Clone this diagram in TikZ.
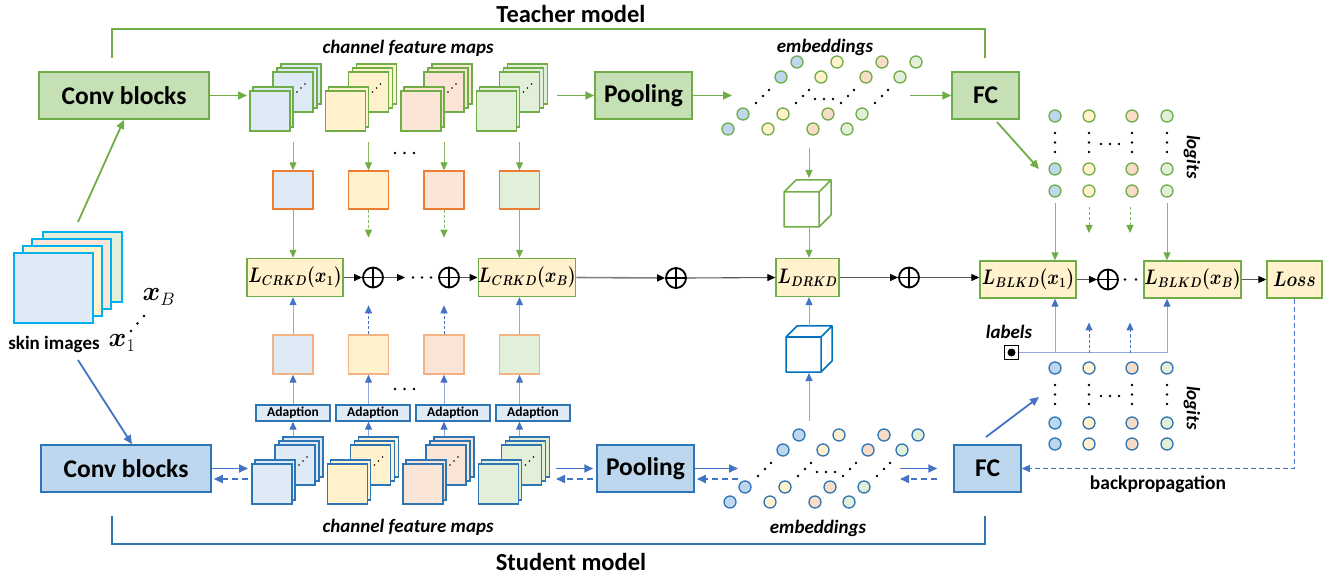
\RequirePackage{fix-cm}
\documentclass[tikz,border=0pt]{standalone}
\usepackage{amsmath,bm}
\usepackage{fontspec}
\setmainfont{Carlito}
\usetikzlibrary{arrows.meta,calc}
\DeclareMathSizes{21}{21}{14}{11}
\DeclareMathSizes{27}{27}{18}{14}

\definecolor{tgreen}{HTML}{70AD47}
\definecolor{tgreenfill}{HTML}{C5E0B4}
\definecolor{sblue}{HTML}{2E75B6}
\definecolor{sbluefill}{HTML}{BDD7EE}
\definecolor{arrblue}{HTML}{4472C4}
\definecolor{lightarr}{HTML}{8FAADC}
\definecolor{cblue}{HTML}{DEEBF7}
\definecolor{eblue}{HTML}{BDD7EE}
\definecolor{cyellow}{HTML}{FFF2CC}
\definecolor{corange}{HTML}{FBE5D6}
\definecolor{eorange}{HTML}{F9DCC8}
\definecolor{cgreen}{HTML}{E2F0D9}
\definecolor{orangeB}{HTML}{ED7D31}
\definecolor{orangeL}{HTML}{F4B183}
\definecolor{cyanB}{HTML}{00B0F0}
\definecolor{cubeblue}{HTML}{0070C0}

\newcommand{\fmapstack}[4]{%
  \begin{scope}[shift={(#1,#2)}]
    \foreach \dx/\dy in {31/-27, 27/-23, 23/-19}
      \draw[draw=#4, fill=#3, line width=1.4pt] (\dx,\dy) rectangle ++(40,40);
    \foreach \dx/\dy in {47/1, 51/-3, 55/-7}
      \fill (\dx,\dy) circle (0.9pt);
    \draw[draw=#4, fill=#3, line width=1.4pt] (3,-4) rectangle ++(40,40);
    \draw[draw=#4, fill=#3, line width=1.4pt] (0,0) rectangle ++(40,40);
  \end{scope}}

\newcommand{\embset}[3]{%
  \begin{scope}[shift={(#1,#2)}]
    \foreach \bx/\c in {728/eblue, 768/cyellow, 813/eorange, 847/cgreen}{
      \foreach \ox/\oy in {0/0, 15/-15, 53/-52, 69/-67}
        \draw[draw=#3, fill=\c, line width=1.3pt] (\bx+\ox,129+\oy) circle (6pt);
      \foreach \ox/\oy in {28/-26, 35/-33, 41/-39}
        \fill (\bx+\ox,129+\oy) circle (1.3pt);
    }
    \foreach \hx in {815,824,833} \fill (\hx,99) circle (1.3pt);
  \end{scope}}

\newcommand{\logitset}[5]{%
  \foreach \lx/\c in {1055/eblue, 1089/cyellow, 1132/eorange, 1167/cgreen}{
    \foreach \ly in {#1,#2,#3}
      \draw[draw=#4, fill=\c, line width=1.3pt] (\lx,\ly) circle (6pt);
    \foreach \dy in {0,9.5,19}
      \fill (\lx,#5+\dy) circle (1.3pt);
  }
  \foreach \hx in {1101,1110,1119} \fill (\hx,#5+11) circle (1.3pt);}

\newcommand{\cubeshape}[5]{% x y size depth color
  \draw[draw=#5, fill=white, line width=1.5pt, line join=round]
    (#1,#2) rectangle ++(#3,#3)
    (#1,#2) -- ++(#4,-#4) -- ++(#3,0) -- ++(0,#3) -- ++(-#4,#4)
    (#1+#3,#2) -- ++(#4,-#4);}

\newcommand{\lossmath}[1]{\scalebox{0.85}[1]{$\bm{#1}$}}

\begin{document}
\begin{tikzpicture}[x=1pt,y=-1pt,
  title/.style={font=\fontsize{24.5}{28}\selectfont\bfseries, inner sep=0pt},
  bigbox/.style={draw, line width=1.5pt, font=\fontsize{25.5}{28}\selectfont\bfseries, inner sep=0pt, minimum height=47pt},
  tbox/.style={bigbox, draw=tgreen, fill=tgreenfill},
  sbox/.style={bigbox, draw=sblue, fill=sbluefill},
  lbox/.style={draw=tgreen, fill=cyellow, line width=1.4pt, inner sep=0pt, minimum height=38pt, font=\fontsize{21}{23}\selectfont},
  adbox/.style={draw=sblue, fill=cblue, line width=1.3pt, minimum width=74pt, minimum height=16pt, inner sep=0pt, font=\fontsize{13.5}{14}\selectfont\bfseries},
  tsqs/.style={draw=orangeB, line width=1.4pt, minimum width=40pt, minimum height=38pt, inner sep=0pt},
  ssqs/.style={draw=orangeL, line width=1.4pt, minimum width=40pt, minimum height=39pt, inner sep=0pt},
  oplus/.style={circle, draw, line width=1.8pt, minimum size=20pt, inner sep=0pt,
    path picture={\draw[line width=1.8pt] (path picture bounding box.north) -- (path picture bounding box.south)
      (path picture bounding box.west) -- (path picture bounding box.east);}},
  lbl/.style={font=\fontsize{19.5}{22}\selectfont\bfseries, inner sep=0pt},
  ilbl/.style={font=\fontsize{19}{22}\selectfont\bfseries\itshape, inner sep=0pt},
  tarr/.style={draw=tgreen, line width=1.8pt, -{Triangle[length=9pt,width=8pt]}},
  sarr/.style={draw=arrblue, line width=1.8pt, -{Triangle[length=9pt,width=8pt]}},
  sdarr/.style={sarr, dash pattern=on 6pt off 4pt},
  tthin/.style={draw=tgreen!85, line width=1pt, -{Triangle[length=8pt,width=7pt,color=tgreen]}},
  tthind/.style={tthin, dash pattern=on 3pt off 2pt},
  sthin/.style={draw=lightarr, line width=1pt, -{Triangle[length=8pt,width=7pt,color=arrblue]}},
  sthind/.style={sthin, draw=arrblue, dash pattern=on 3pt off 2pt},
  karr/.style={draw=black!65, line width=1.1pt, -{Triangle[length=8pt,width=7pt,color=black]}}
]
\useasboundingbox (0,0) rectangle (1336,577);

% brackets and titles
\draw[tgreen, line width=1.3pt] (112,58) -- (112,29) -- (985,29) -- (985,58);
\draw[sblue, line width=1.3pt] (112,516) -- (112,544) -- (985,544) -- (985,516);
\node[title] (ttitle) at (571,14) {Teacher model};
\node[title] (stitle) at (571,562) {Student model};

% skin images
\foreach \dx/\dy/\c in {29/-21/cgreen, 18/-14/corange, 9/-7/cyellow, 0/0/cblue}
  \draw[draw=cyanB, fill=\c, line width=1.4pt] (14+\dx,253+\dy) rectangle ++(79,70);
\node[lbl, font=\fontsize{19}{22}\selectfont\bfseries] (skin) at (54,344) {skin images};
\node[inner sep=0pt, font=\fontsize{27}{29}\selectfont] (x1) at (122,343) {$\bm{x}_1$};
\node[inner sep=0pt, font=\fontsize{27}{29}\selectfont] (xB) at (159,297) {$\bm{x}_B$};
\foreach \px/\py in {131/331, 137.5/323.5, 144/316} \fill (\px,\py) circle (1.4pt);
\coordinate (skintop) at (78,222);
\coordinate (skinbot) at (78,360);

% main boxes
\node[tbox, minimum width=170pt] (tconv) at (124,95.5) {Conv blocks};
\node[sbox, minimum width=170pt] (sconv) at (126,468.5) {Conv blocks};
\node[tbox, minimum width=97pt] (tpool) at (643.5,95.5) {Pooling};
\node[sbox, minimum width=97pt] (spool) at (645.5,468.5) {Pooling};
\node[tbox, minimum width=67pt] (tfc) at (985.5,95.5) {FC};
\node[sbox, minimum width=67pt] (sfc) at (987.5,468.5) {FC};

\draw[tarr] (skintop) -- (tconv.south);
\draw[sarr] (skinbot) -- ($(sconv.north)+(6,0)$);

% feature maps
\foreach \i/\c in {0/cblue, 1/cyellow, 2/corange, 3/cgreen}{
  \fmapstack{250+75.5*\i}{91}{\c}{tgreen}
  \fmapstack{252+75.5*\i}{464}{\c}{sblue}
}
\node[ilbl] (tfmlbl) at (408,48) {channel feature maps};
\node[ilbl] (sfmlbl) at (408,527) {channel feature maps};

% teacher horizontal flow
\coordinate (tfmin) at (247,95.5);
\coordinate (tfmout) at (557,95.5);
\coordinate (tembin) at (732,95.5);
\coordinate (tembout) at (910,95.5);
\draw[tarr] (tconv.east) -- (tfmin);
\draw[tarr] (tfmout) -- (tpool.west);
\draw[tarr] (tpool.east) -- (tembin);
\draw[tarr] (tembout) -- (tfc.west);

% student horizontal flow
\coordinate (sfmin) at (248,468.5);
\coordinate (sfmout) at (556,468.5);
\coordinate (sembin) at (738,468.5);
\coordinate (sembout) at (900,468.5);
\draw[sarr] (sconv.east) -- (sfmin);
\draw[sdarr] ($(sfmin)+(0,10.5)$) -- ($(sconv.east)+(2,10.5)$);
\draw[sarr] (sfmout) -- ($(spool.west)+(-3,0)$);
\draw[sdarr] ($(spool.west)+(-3,10.5)$) -- ($(sfmout)+(0,10.5)$);
\draw[sarr] (spool.east) -- (sembin);
\draw[sdarr] ($(sembin)+(0,10.5)$) -- ($(spool.east)+(2,10.5)$);
\draw[sarr] (sembout) -- ($(sfc.west)+(-16,0)$);
\draw[sdarr] ($(sfc.west)+(-16,10.5)$) -- ($(sembout)+(0,10.5)$);

% embeddings
\embset{0}{0}{tgreen}
\embset{2}{373}{sblue}
\node[ilbl] (temblbl) at (825,47) {embeddings};
\node[ilbl] (semblbl) at (818,528) {embeddings};

% logits
\logitset{116}{169}{191}{tgreen}{133}
\logitset{368}{423}{444}{sblue}{385}
\node[ilbl, rotate=-90] (tloglbl) at (1192,157) {logits};
\node[ilbl, rotate=-90] (sloglbl) at (1192,408) {logits};
\coordinate (tfcout) at (997,122);
\coordinate (tlogin) at (1039,169);
\coordinate (sfcout) at (986,437);
\coordinate (slogin) at (1039,397);
\draw[tarr] (tfcout) -- (tlogin);
\draw[sarr] (sfcout) -- (slogin);

% middle squares
\foreach \i/\c in {0/cblue, 1/cyellow, 2/corange, 3/cgreen}{
  \node[tsqs, fill=\c] (tsq\i) at (293+75.5*\i,190) {};
  \node[ssqs, fill=\c] (ssq\i) at (293+75.5*\i,354.5) {};
  \node[adbox] (ad\i) at (293+80*\i,413) {Adaption};
  \coordinate (tfmb\i) at (293+75.5*\i,142);
  \coordinate (sfmt\i) at (293+75.5*\i,436);
  \draw[tthin] (tfmb\i) -- (tsq\i.north);
  \draw[sthin] (sfmt\i) -- (sfmt\i |- ad\i.south);
  \draw[sthin] (ssq\i.south |- ad\i.north) -- (ssq\i.south);
}
\foreach \hx in {395,404.5,414}{
  \fill (\hx,153) circle (1.3pt);
  \fill (\hx,389) circle (1.3pt);
}

% loss boxes
\node[lbox, minimum width=96pt] (lc1) at (295,277.5) {\lossmath{L_{CRKD}(x_1)}};
\node[lbox, minimum width=96pt] (lcB) at (527,277.5) {\lossmath{L_{CRKD}(x_B)}};
\node[lbox, minimum width=63pt] (ldrkd) at (807.5,277.5) {\lossmath{L_{DRKD}}};
\node[lbox, minimum width=96pt, minimum height=37pt] (lb1) at (1028,279.5) {\lossmath{L_{BLKD}(x_1)}};
\node[lbox, minimum width=97pt, minimum height=37pt] (lbB) at (1192.5,279.5) {\lossmath{L_{BLKD}(x_B)}};
\node[lbox, minimum width=55pt, minimum height=37pt] (loss) at (1294.5,279.5) {\lossmath{Loss}};

% teacher squares -> losses
\draw[tthin] (tsq0.south) -- (tsq0.south |- lc1.north);
\draw[tthind] (tsq1.south) -- ++(0,28);
\draw[tthind] (tsq2.south) -- ++(0,28);
\draw[tthin] (tsq3.south) -- (tsq3.south |- lcB.north);
% student squares -> losses
\draw[sthin] (ssq0.north) -- (ssq0.north |- lc1.south);
\draw[sthind] (ssq1.north) -- ++(0,-29);
\draw[sthind] (ssq2.north) -- ++(0,-29);
\draw[sthin] (ssq3.north) -- (ssq3.north |- lcB.south);

% oplus chain
\node[oplus] (p1) at (373,277.5) {};
\node[oplus] (p2) at (449,277.5) {};
\node[oplus] (p3) at (676,278) {};
\node[oplus] (p4) at (909,277.5) {};
\node[oplus] (p5) at (1108,279.5) {};
\coordinate (p1out) at (405,277.5);
\draw[karr] (lc1.east) -- (p1.west);
\draw[karr] (p1.east) -- (p1out);
\foreach \hx in {413,422,431} \fill (\hx,277.5) circle (1.3pt);
\draw[karr] (p2.east) -- (lcB.west);
\draw[karr, line width=1.6pt, draw=black!50] (lcB.east) -- (p3.west);
\draw[karr] (p3.east) -- (ldrkd.west);
\draw[karr] (ldrkd.east) -- (p4.west);
\draw[karr] (p4.east) -- (lb1.west |- p4.east);
\draw[karr] (lb1.east) -- (p5.west);
\foreach \hx in {1125,1136} \fill (\hx,279.5) circle (1.3pt);
\draw[karr] (lbB.east) -- (loss.west);

% cubes
\cubeshape{784}{192}{35}{12}{tgreen}
\cubeshape{786}{337}{35}{11}{cubeblue}
\coordinate (tembb) at (809,148);
\coordinate (tcubet) at (809,178);
\coordinate (tcubeb) at (809,227);
\coordinate (sembt) at (809,421);
\coordinate (scubeb) at (809,373);
\coordinate (scubet) at (809,326);
\draw[tthin] (tembb) -- (tcubet);
\draw[tthin] (tcubeb) -- (ldrkd.north -| tcubeb);
\draw[sthin] (sembt) -- (scubeb);
\draw[sthin] (scubet) -- (ldrkd.south -| scubet);

% teacher logits -> BLKD
\coordinate (tl1) at (1055,203);
\coordinate (tl2) at (1089,207);
\coordinate (tl3) at (1130,207);
\coordinate (tl4) at (1167,203);
\draw[tthin] (tl1) -- (tl1 |- lb1.north);
\draw[tthind] (tl2) -- ++(0,26);
\draw[tthind] (tl3) -- ++(0,26);
\draw[tthin] (tl4) -- (tl4 |- lbB.north);

% labels
\node[draw, line width=1.2pt, minimum size=14pt, inner sep=0pt, fill=white,
  path picture={\fill[black] (path picture bounding box.center) circle (4pt);}] (lab) at (1011.5,352.5) {};
\node[ilbl] (lablbl) at (1009,332) {labels};
\coordinate (lend) at (1167,352.5);
\coordinate (lj1) at (1055,352.5);
\coordinate (lj2) at (1089,352.5);
\coordinate (lj3) at (1130,352.5);
\draw[lightarr, line width=1.2pt] (lab.east) -- (lend);
\draw[sthin] (lj1) -- (lj1 |- lb1.south);
\draw[sthind] (lj2) -- ++(0,-30);
\draw[sthind] (lj3) -- ++(0,-30);
\draw[sthin] (lend) -- (lend |- lbB.south);

% backpropagation
\draw[draw=arrblue, line width=1.3pt, dash pattern=on 5pt off 3pt, -{Triangle[length=8pt,width=7pt]}]
  (loss.south) -- (loss.south |- sfc.east) -- (sfc.east);
\node[lbl] (bplbl) at (1158,484) {backpropagation};

\end{tikzpicture}
\end{document}
